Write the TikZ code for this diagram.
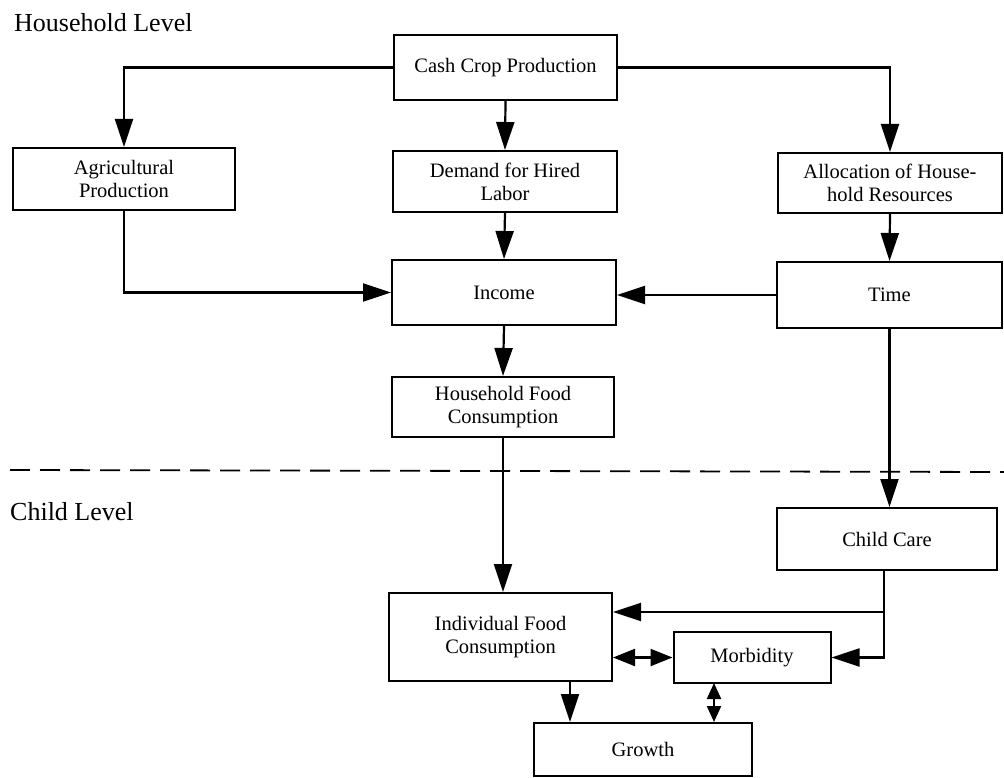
\documentclass[tikz,border=0pt]{standalone}
\usepackage{fontspec}
\setmainfont{Liberation Serif}
\usetikzlibrary{arrows.meta}
\begin{document}
\begin{tikzpicture}[x=1pt,y=-1pt,
  box/.style={draw, line width=2pt, inner sep=0pt, align=center,
    font=\fontsize{20.5}{23}\selectfont},
  lvl/.style={anchor=base west, inner sep=0pt, font=\fontsize{26}{30}\selectfont},
  conn/.style={line width=2.2pt, -{Triangle[length=28pt,width=18pt]}},
  dbl/.style={line width=2.2pt, {Triangle[length=22pt,width=17pt]}-{Triangle[length=22pt,width=17pt]}},
  dbls/.style={line width=2.2pt, {Triangle[length=16pt,width=14pt]}-{Triangle[length=16pt,width=14pt]}},
  divider/.style={line width=1.8pt, dash pattern=on 20pt off 10pt}]
\useasboundingbox (0,0) rectangle (1004,778);
% level labels
\node[lvl] (hh) at (14,32) {Household Level};
\node[lvl] (cl) at (10,520) {Child Level};
% divider
\coordinate (dl) at (10,470);
\coordinate (dr) at (1004,472);
\draw[divider] (dl) -- (dr);
% boxes
\node[box, minimum width=223pt, minimum height=65pt] (cash) at (505.5,67.5) {Cash Crop Production};
\node[box, minimum width=222pt, minimum height=62pt] (ag) at (124,179) {Agricultural\\Production};
\node[box, minimum width=224pt, minimum height=61pt] (dem) at (505,181.5) {Demand for Hired\\Labor};
\node[box, minimum width=224pt, minimum height=60pt] (alloc) at (890,183) {Allocation of House-\\hold Resources};
\node[box, minimum width=224pt, minimum height=65pt] (inc) at (504,292.5) {Income};
\node[box, minimum width=225pt, minimum height=66pt] (time) at (889.5,295) {Time};
\node[box, minimum width=222pt, minimum height=60pt] (hf) at (503,407) {Household Food\\Consumption};
\node[box, minimum width=220pt, minimum height=62pt] (cc) at (887,539) {Child Care};
\node[box, minimum width=223pt, minimum height=88pt] (if) at (500.5,637) {Individual Food\\Consumption};
\node[box, minimum width=157pt, minimum height=51pt] (morb) at (752,657.5) {Morbidity};
\node[box, minimum width=218pt, minimum height=53pt] (gr) at (643,749.5) {Growth};
% connectors
\draw[conn] (cash.west) -| (ag.north);
\draw[conn] (cash.south) -- (dem.north);
\draw[conn] (cash.east) -| (alloc.north);
\draw[conn] (ag.south) |- (inc.west);
\draw[conn] (dem.south) -- (inc.north);
\draw[conn] (alloc.south) -- (time.north);
\draw[conn] (time.west) -- (time.west -| inc.east);
\draw[conn] (inc.south) -- (hf.north);
\draw[conn] (hf.south) -- (hf.south |- if.north);
\draw[conn] (time.south) -- (time.south |- cc.north);
\coordinate (j1) at (884,612);
\coordinate (j2) at (884,657.5);
\draw[conn] (cc.south -| j1) -- (j2) -- (morb.east);
\draw[conn] (j1) -- (j1 -| if.east);
\draw[dbl] (if.east |- morb.west) -- (morb.west);
\coordinate (g1) at (570,681);
\coordinate (m1) at (714,683);
\draw[conn] (g1) -- (g1 |- gr.north);
\draw[dbls] (m1) -- (m1 |- gr.north);
\end{tikzpicture}
\end{document}
